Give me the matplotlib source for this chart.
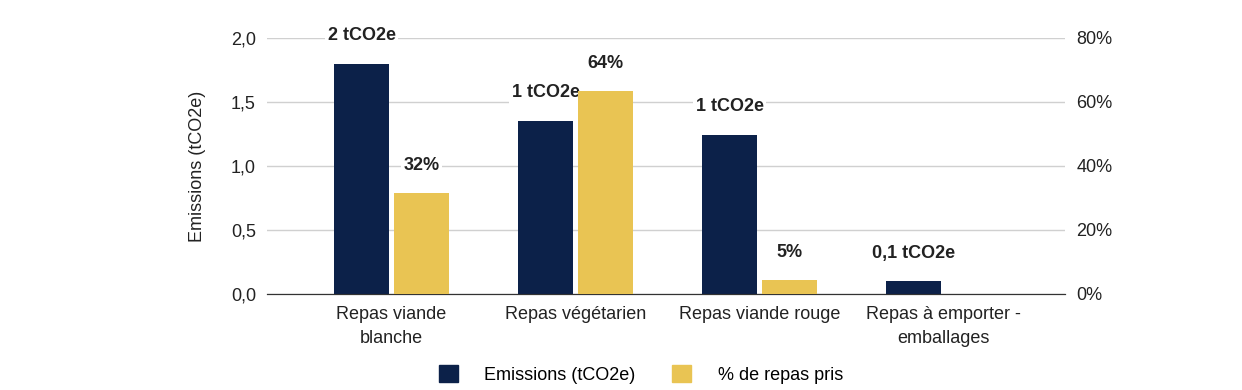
import numpy as np
import matplotlib.pyplot as plt
from matplotlib.patches import Patch

plt.rcParams['font.family'] = ['Liberation Sans', 'DejaVu Sans']

categories = ['Repas viande\nblanche', 'Repas végétarien', 'Repas viande rouge', 'Repas à emporter -\nemballages']
emissions = [1.80, 1.355, 1.245, 0.10]
emission_labels = ['2 tCO2e', '1 tCO2e', '1 tCO2e', '0,1 tCO2e']
share = [31.5, 63.5, 4.4, None]
share_labels = ['32%', '64%', '5%', None]

navy = '#0c2149'
gold = '#e9c453'


def main():
    fig = plt.figure(figsize=(12.42, 3.9), dpi=100)
    ax = fig.add_axes([0.215, 0.2462, 0.6425, 0.6564])
    ax2 = ax.twinx()

    x = np.arange(len(categories))
    w = 0.30
    off = 0.163

    ax.bar(x - off, emissions, width=w, color=navy, zorder=3)
    for xi, v, lab in zip(x, emissions, emission_labels):
        ax.annotate(lab, (xi - off, v), xytext=(0, 20), textcoords='offset points',
                    ha='center', va='center', fontsize=13, fontweight='bold', color='#222222',
                    bbox=dict(boxstyle='square,pad=0.15', fc='white', ec='none'), zorder=5)

    sx = [xi + off for xi, s in zip(x, share) if s is not None]
    sv = [s for s in share if s is not None]
    sl = [l for l in share_labels if l is not None]
    ax2.bar(sx, sv, width=w, color=gold, zorder=3)
    for xi, v, lab in zip(sx, sv, sl):
        ax2.annotate(lab, (xi, v), xytext=(0, 20), textcoords='offset points',
                     ha='center', va='center', fontsize=13, fontweight='bold', color='#222222',
                     bbox=dict(boxstyle='square,pad=0.15', fc='white', ec='none'), zorder=5)

    ax.set_xlim(-0.677, 3.66)
    ax.set_ylim(0, 2.0)
    ax2.set_ylim(0, 80)
    ax.set_yticks([0, 0.5, 1.0, 1.5, 2.0])
    ax.set_yticklabels(['0,0', '0,5', '1,0', '1,5', '2,0'])
    ax2.set_yticks([0, 20, 40, 60, 80])
    ax2.set_yticklabels(['0%', '20%', '40%', '60%', '80%'])
    ax.set_xticks(x)
    ax.set_xticklabels(categories, linespacing=1.5)

    ax.yaxis.grid(True, color='#d0d0d0', linewidth=1.0, zorder=0)
    ax.set_axisbelow(True)
    for a in (ax, ax2):
        for s in ('top', 'left', 'right'):
            a.spines[s].set_visible(False)
        a.spines['bottom'].set_color('#333333')
        a.tick_params(length=0, labelsize=13, colors='#222222')
    ax.tick_params(axis='y', pad=8)
    ax2.tick_params(axis='y', pad=8)
    ax.tick_params(axis='x', pad=9)
    ax2.set_zorder(ax.get_zorder() + 1)
    ax2.patch.set_visible(False)

    ax.set_ylabel('Emissions (tCO2e)', fontsize=13, color='#222222', labelpad=18)

    handles = [Patch(color=navy, label='Emissions (tCO2e)'),
               Patch(color=gold, label='% de repas pris')]
    fig.legend(handles=handles, loc='center', bbox_to_anchor=(0.516, 0.04), ncol=2,
               frameon=False, fontsize=13, handlelength=1.05, handleheight=1.05,
               handletextpad=1.45, columnspacing=2.05)

    fig.savefig('out.png', dpi=100)


if __name__ == '__main__':
    main()
